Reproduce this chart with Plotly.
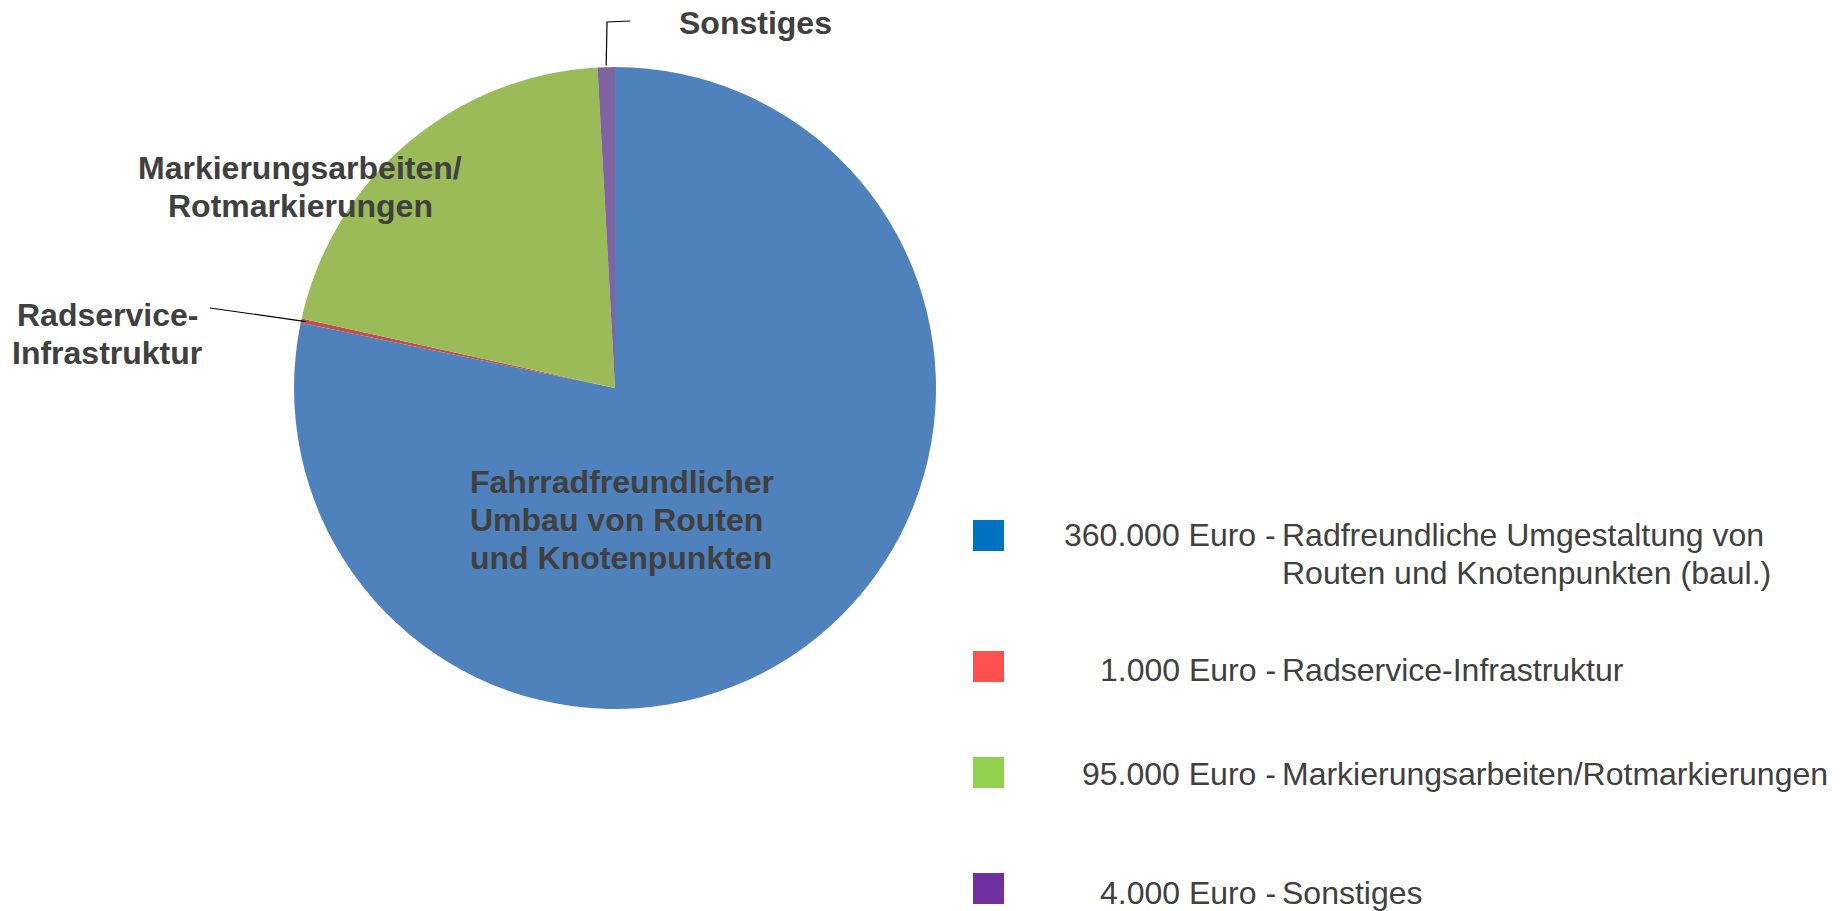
import math
import plotly.graph_objects as go

W, H = 1844, 911

# ---- data ----
categories = ["Radfreundliche Umgestaltung", "Radservice-Infrastruktur",
              "Markierungsarbeiten/Rotmarkierungen", "Sonstiges"]
amounts = [360000, 1000, 95000, 4000]
amount_labels = ["360.000 Euro -", "1.000 Euro -", "95.000 Euro -", "4.000 Euro -"]
legend_desc = [["Radfreundliche Umgestaltung von", "Routen und Knotenpunkten (baul.)"],
               ["Radservice-Infrastruktur"],
               ["Markierungsarbeiten/Rotmarkierungen"],
               ["Sonstiges"]]
slice_labels = [["Fahrradfreundlicher", "Umbau von Routen", "und Knotenpunkten"],
                ["Radservice-", "Infrastruktur"],
                ["Markierungsarbeiten/", "Rotmarkierungen"],
                ["Sonstiges"]]
pie_colors = ["#4F81BD", "#C0504D", "#9BBB59", "#8064A2"]
legend_colors = ["#0070C0", "#FF5050", "#92D050", "#7030A0"]

TEXT = "#404040"
FONT = "Liberation Sans, Arial, sans-serif"

def px(x):
    return x / W

def py(y):
    return 1 - y / H

# pie geometry (pixels)
CX, CY, R = 615, 388, 321

fig = go.Figure(go.Pie(
    labels=categories, values=amounts, sort=False, direction="clockwise",
    rotation=0, textinfo="none", hoverinfo="label+value",
    marker=dict(colors=pie_colors, line=dict(width=0)),
    domain=dict(x=[px(CX - R), px(CX + R)], y=[py(CY + R), py(CY - R)]),
    showlegend=False,
))

annotations = []
shapes = []

def add_lines(lines, x, y0, step, anchor, bold, size=32):
    for i, t in enumerate(lines):
        annotations.append(dict(
            x=px(x), y=py(y0 + i * step), xref="paper", yref="paper",
            text=f"<b>{t}</b>" if bold else t, showarrow=False,
            xanchor=anchor, yanchor="middle",
            font=dict(family=FONT, size=size, color=TEXT)))

# slice labels
add_lines(slice_labels[0], 468, 482, 38, "left", True)
add_lines(slice_labels[1], 107, 315, 38, "center", True)
add_lines(slice_labels[2], 300, 168, 38, "center", True)
add_lines(slice_labels[3], 677, 23, 38, "left", True)

# leader lines from slice mid-angles
total = sum(amounts)
cum = [sum(amounts[:i]) for i in range(len(amounts))]

def edge_point(i, rf):
    ang = (cum[i] + amounts[i] / 2) / total * 2 * math.pi
    return CX + rf * R * math.sin(ang), CY - rf * R * math.cos(ang)

# Radservice leader
ex, ey = edge_point(1, 0.985)
shapes.append(dict(type="path", xref="paper", yref="paper",
                   path=f"M {px(210)} {py(308)} L {px(ex)} {py(ey)}",
                   line=dict(color="black", width=1.2)))
# Sonstiges leader
ex, ey = edge_point(3, 1.005)
shapes.append(dict(type="path", xref="paper", yref="paper",
                   path=f"M {px(630)} {py(21)} L {px(607)} {py(22)} L {px(ex)} {py(ey)}",
                   line=dict(color="black", width=1.2)))

# custom legend
sq_top = [520, 651, 757, 873]
for i in range(len(amounts)):
    shapes.append(dict(type="rect", xref="paper", yref="paper",
                       x0=px(973), x1=px(1004), y0=py(sq_top[i] + 31), y1=py(sq_top[i]),
                       fillcolor=legend_colors[i], line=dict(width=0)))
row_y = [535, 670, 774, 893]
for i in range(len(amounts)):
    add_lines([amount_labels[i]], 1278, row_y[i], 38, "right", False)
    add_lines(legend_desc[i], 1280, row_y[i], 38, "left", False)

fig.update_layout(
    width=W, height=H, margin=dict(l=0, r=0, t=0, b=0),
    paper_bgcolor="white", plot_bgcolor="white",
    annotations=annotations, shapes=shapes,
)
fig.write_html("out.html", config={"displayModeBar": False},
               post_script="document.body.style.margin='0px';document.body.style.overflow='hidden';")
